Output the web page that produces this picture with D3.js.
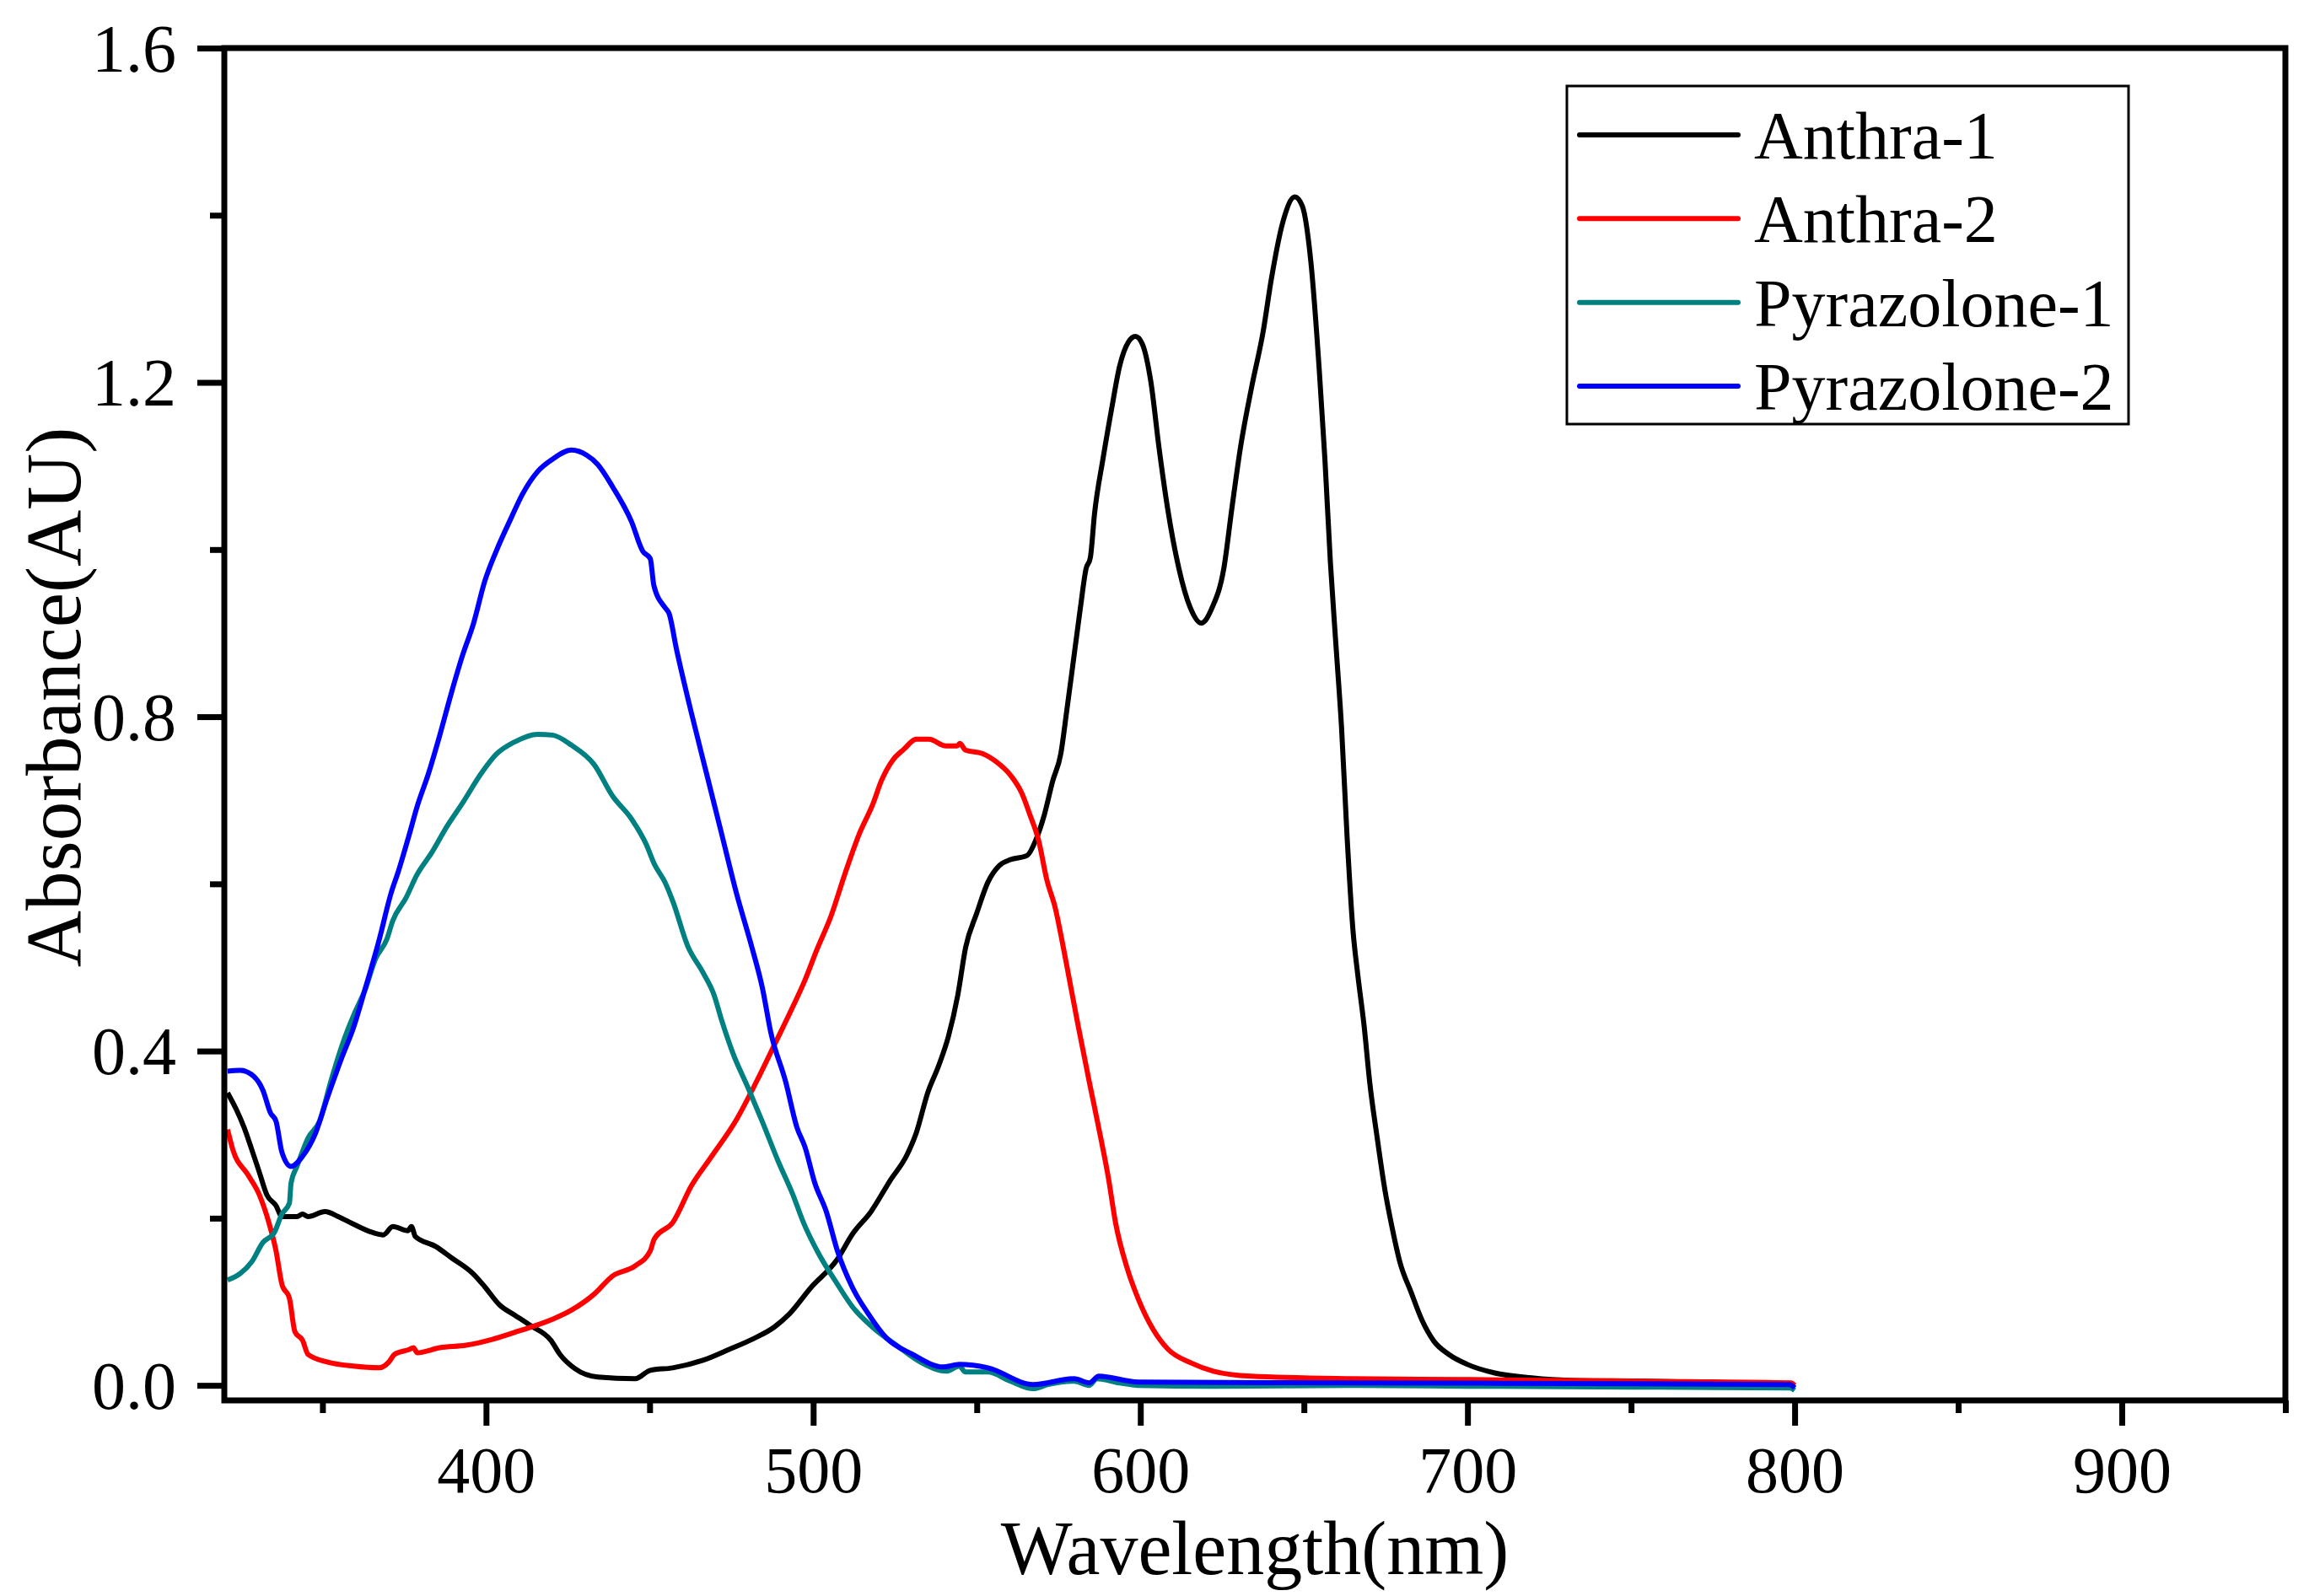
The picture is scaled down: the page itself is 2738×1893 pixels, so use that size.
<!DOCTYPE html>
<html>
<head>
<meta charset="utf-8">
<script src="https://cdn.jsdelivr.net/npm/d3@7"></script>
<style>
  body { margin: 0; background: #fff; }
  text { font-family: "Liberation Serif", "Times New Roman", serif; fill: #000; }
</style>
</head>
<body>
<div id="chart"></div>
<script>
// series names and colours
const seriesNames = ["Anthra-1", "Anthra-2", "Pyrazolone-1", "Pyrazolone-2"];
const seriesColors = ["#000000", "#ff0000", "#008080", "#0000ff"];

// [wavelength (nm), absorbance (AU)]
const anthra1 = [[321,0.350],[323.8,0.329],[326,0.309],[328.4,0.282],[330.7,0.255],[333,0.228],[335.8,0.215],[337.6,0.202],
  [342.2,0.202],[343.9,0.205],[345.6,0.202],[350.8,0.208],[354.8,0.202],[359.4,0.193],[365.2,0.183],[368.6,0.180],
  [371.5,0.190],[376.1,0.185],[377.2,0.190],[378.4,0.178],[384.7,0.166],[389.3,0.153],[396.2,0.133],[399.6,0.118],
  [404.2,0.096],[408.8,0.084],[413.4,0.072],[419.8,0.054],[422.6,0.037],[427.2,0.020],[434.1,0.010],[445.6,0.008],
  [450.2,0.018],[457.1,0.021],[466.3,0.030],[474.3,0.043],[481.3,0.055],[488.2,0.070],[492.6,0.085],[499.3,0.117],
  [507.4,0.151],[512,0.181],[517.7,0.208],[523.5,0.245],[528.7,0.276],[531.5,0.302],[535,0.350],[538.4,0.383],
  [541.3,0.417],[544.2,0.467],[546.6,0.524],[550,0.565],[553.4,0.602],[556.9,0.622],[560.3,0.629],[565.4,0.634],
  [568,0.652],[570.6,0.682],[573.2,0.723],[575.7,0.756],[577.5,0.807],[579.2,0.857],[581.7,0.931],[583.4,0.977],
  [584.7,0.990],[586,1.043],[588.6,1.109],[591.2,1.168],[593.7,1.220],[596.3,1.248],[598.5,1.255],[600.6,1.246],
  [603.2,1.201],[605.7,1.122],[608.3,1.050],[611.8,0.977],[615.2,0.931],[618.6,0.912],[622,0.931],[625.5,0.977],
  [628,1.050],[630.6,1.122],[634,1.194],[637.5,1.260],[640.1,1.325],[643.5,1.391],[647.2,1.422],[649.5,1.411],
  [652.1,1.345],[654.7,1.214],[656.4,1.109],[658.1,0.984],[659.8,0.885],[661.5,0.787],[663.2,0.656],[665,0.544],
  [666.5,0.490],[668.4,0.430],[670.1,0.363],[672.4,0.296],[674.7,0.235],[677,0.188],[679.3,0.148],[682.8,0.111],
  [686.2,0.077],[689.7,0.053],[694.3,0.037],[700,0.025],[708.1,0.015],[719.6,0.009],[731.1,0.006],[754,0.005],
  [780,0.003],[800,0.001]];

const anthra2 = [[321,0.306],[322.6,0.282],[327.2,0.252],[330.7,0.228],[333.6,0.195],[335.8,0.161],[337.6,0.121],
  [339.9,0.104],[341.6,0.064],[343.9,0.054],[345.6,0.037],[351.4,0.028],[359.4,0.023],[367.4,0.021],[370.3,0.028],
  [372,0.037],[376.6,0.043],[377.8,0.045],[379,0.039],[385.8,0.045],[393.9,0.048],[401.9,0.055],[410,0.065],
  [420.3,0.079],[426.1,0.090],[433,0.109],[438.7,0.131],[445.6,0.143],[450.2,0.161],[451.4,0.175],[457.1,0.195],
  [462.8,0.239],[468.6,0.272],[476.7,0.319],[483.5,0.370],[488.1,0.407],[493.9,0.454],[497.5,0.485],[501.1,0.521],
  [505.4,0.561],[509.7,0.612],[514,0.659],[518.3,0.696],[520.8,0.723],[524.3,0.748],[527.7,0.761],[531.5,0.773],
  [535.4,0.773],[540.6,0.765],[544,0.765],[544.8,0.768],[546.6,0.760],[551.7,0.756],[556,0.746],[560.3,0.730],
  [563.7,0.709],[566.3,0.682],[568.9,0.652],[571.4,0.605],[574,0.571],[576.6,0.521],[578.1,0.490],[581,0.430],
  [584.4,0.363],[587.9,0.296],[590.2,0.249],[592.4,0.195],[595.9,0.141],[599.3,0.104],[603.9,0.067],[608.5,0.043],
  [615.4,0.027],[622.3,0.017],[633.8,0.011],[664.6,0.008],[696.6,0.007],[754,0.005],[798.9,0.003],[800,0.000]];

const pyrazolone1 = [[321,0.126],[324.9,0.134],[328.4,0.148],[331.8,0.171],[335.3,0.183],[337.6,0.205],[339.9,0.218],
  [340.4,0.242],[342.2,0.262],[345.6,0.296],[349.1,0.316],[352.5,0.363],[356,0.407],[360,0.447],[362.8,0.471],
  [366.3,0.511],[369.7,0.534],[371.5,0.556],[375.5,0.583],[378.9,0.611],[383.5,0.638],[388.1,0.669],[392.7,0.696],
  [398.5,0.732],[403.1,0.755],[408.8,0.770],[415.7,0.779],[420.3,0.778],[426.1,0.766],[433,0.743],[438.7,0.705],
  [444.4,0.678],[449,0.647],[451.4,0.624],[454.8,0.601],[457.1,0.579],[461.7,0.525],[466.3,0.494],[469.7,0.467],
  [472,0.437],[475.5,0.397],[480.1,0.356],[484.5,0.315],[489.2,0.269],[493.8,0.228],[497,0.195],[501.6,0.158],
  [507.4,0.121],[512,0.094],[518.9,0.067],[525.8,0.047],[532.7,0.028],[540.7,0.017],[544.7,0.023],[546.5,0.016],
  [553.4,0.016],[560.3,0.005],[567.2,-0.004],[571.8,0.001],[579.8,0.005],[584.4,0.000],[586.7,0.008],[593.6,0.003],
  [599.3,0.000],[622.3,-0.001],[664.6,0.000],[700,-0.001],[750,-0.002],[798.5,-0.003],[800,-0.006]];

const pyrazolone2 = [[321,0.376],[324.9,0.377],[328.9,0.370],[331.8,0.353],[334.1,0.326],[335.8,0.316],[337.6,0.279],
  [340.4,0.262],[343.9,0.274],[347.9,0.302],[351.4,0.343],[356,0.393],[359.4,0.427],[362.8,0.471],[367.4,0.534],
  [370.9,0.588],[373.2,0.615],[376.6,0.660],[378.9,0.692],[382.4,0.732],[385.8,0.777],[389.3,0.827],[392.7,0.872],
  [396.2,0.912],[399.6,0.962],[403.1,0.998],[407.7,1.038],[411.1,1.066],[415.7,1.093],[420.3,1.108],[426.1,1.119],
  [430.7,1.113],[434.1,1.102],[438.7,1.075],[444.4,1.034],[447.9,0.998],[450.2,0.989],[451.3,0.957],[454.8,0.930],
  [455.9,0.924],[458.2,0.881],[462.8,0.804],[467.4,0.732],[472,0.660],[476.6,0.588],[481.2,0.525],[484.5,0.475],
  [487,0.423],[491.6,0.363],[495,0.309],[497.5,0.285],[500.5,0.242],[504,0.208],[507.4,0.161],[512,0.117],
  [516.6,0.087],[522.3,0.057],[530.4,0.037],[539.6,0.022],[544.7,0.025],[553.4,0.021],[567.2,0.001],[579.8,0.008],
  [584.4,0.003],[587.3,0.011],[599.3,0.004],[664.6,0.003],[750,0.002],[798.5,0.001],[800,-0.003]];

const seriesData = [anthra1, anthra2, pyrazolone1, pyrazolone2];

// ticks
const xMajorTicks = [400, 500, 600, 700, 800, 900];
const xMinorTicks = [350, 450, 550, 650, 750, 850, 950];
const yMajorTicks = [0.0, 0.4, 0.8, 1.2, 1.6];
const yMinorTicks = [0.2, 0.6, 1.0, 1.4];

const xTitle = "Wavelength(nm)";
const yTitle = "Absorbance(AU)";

// layout
const W = 2738, H = 1893;
const plot = {left: 266, top: 57, right: 2710, bottom: 1661};
const frameW = 7;

const svg = d3.select("#chart").append("svg")
    .attr("width", W)
    .attr("height", H);

svg.append("rect").attr("width", W).attr("height", H).attr("fill", "#fff");

const x = d3.scaleLinear().domain([320, 950]).range([plot.left, plot.right]);
const y = d3.scaleLinear().domain([-0.018, 1.6]).range([plot.bottom, plot.top]);

// clip for curves
svg.append("clipPath").attr("id", "clip")
  .append("rect")
    .attr("x", plot.left).attr("y", plot.top)
    .attr("width", plot.right - plot.left).attr("height", plot.bottom - plot.top);

// curves
const line = d3.line()
    .x(d => x(d[0]))
    .y(d => y(d[1]))
    .curve(d3.curveMonotoneX);

const curves = svg.append("g").attr("clip-path", "url(#clip)");
seriesData.forEach((s, i) => {
  curves.append("path")
    .datum(s)
    .attr("fill", "none")
    .attr("stroke", seriesColors[i])
    .attr("stroke-width", 6)
    .attr("stroke-linejoin", "round")
    .attr("d", line);
});

// axes (ticks only, frame drawn separately)
function styleAxis(g) {
  g.select(".domain").remove();
  g.selectAll(".tick line").attr("stroke", "#000").attr("stroke-width", frameW);
  g.selectAll(".tick text")
    .attr("font-family", "'Liberation Serif', 'Times New Roman', serif")
    .attr("font-size", 80)
    .attr("fill", "#000");
}

svg.append("g")
    .attr("transform", "translate(0," + plot.bottom + ")")
    .call(d3.axisBottom(x).tickValues(xMajorTicks).tickSize(30).tickSizeOuter(0).tickPadding(12).tickFormat(d3.format("d")))
    .call(styleAxis)
    .call(g => g.selectAll(".tick text").attr("dy", null).attr("y", 109).attr("font-size", 78));

svg.append("g")
    .attr("transform", "translate(0," + plot.bottom + ")")
    .call(d3.axisBottom(x).tickValues(xMinorTicks).tickSize(15).tickSizeOuter(0).tickFormat(""))
    .call(styleAxis);

svg.append("g")
    .attr("transform", "translate(" + plot.left + ",0)")
    .call(d3.axisLeft(y).tickValues(yMajorTicks).tickSize(32).tickSizeOuter(0).tickPadding(25).tickFormat(d3.format(".1f")))
    .call(styleAxis)
    .call(g => g.selectAll(".tick text").attr("dy", "0.34em"));

svg.append("g")
    .attr("transform", "translate(" + plot.left + ",0)")
    .call(d3.axisLeft(y).tickValues(yMinorTicks).tickSize(17).tickSizeOuter(0).tickFormat(""))
    .call(styleAxis);

// frame
svg.append("rect")
    .attr("x", plot.left).attr("y", plot.top)
    .attr("width", plot.right - plot.left).attr("height", plot.bottom - plot.top)
    .attr("fill", "none")
    .attr("stroke", "#000")
    .attr("stroke-width", frameW)
    .attr("stroke-linecap", "square");

// axis titles
svg.append("text")
    .attr("x", (plot.left + plot.right) / 2)
    .attr("y", 1867)
    .attr("text-anchor", "middle")
    .attr("font-size", 90)
    .text(xTitle);

svg.append("text")
    .attr("transform", "translate(95,827) rotate(-90)")
    .attr("text-anchor", "middle")
    .attr("font-size", 93)
    .text(yTitle);

// legend
const legend = {left: 1858, top: 102, right: 2524, bottom: 503};
const lg = svg.append("g");
lg.append("rect")
    .attr("x", legend.left).attr("y", legend.top)
    .attr("width", legend.right - legend.left).attr("height", legend.bottom - legend.top)
    .attr("fill", "#fff")
    .attr("stroke", "#000")
    .attr("stroke-width", 3);

const legendY = d3.scalePoint().domain(seriesNames).range([160, 458]);

seriesNames.forEach((name, i) => {
  const ly = legendY(name);
  lg.append("line")
    .attr("x1", 1873).attr("x2", 2061)
    .attr("y1", ly).attr("y2", ly)
    .attr("stroke", seriesColors[i])
    .attr("stroke-width", 6)
    .attr("stroke-linecap", "round");
  lg.append("text")
    .attr("x", 2080)
    .attr("y", ly + 28)
    .attr("font-size", 80)
    .text(name);
});
</script>
</body>
</html>
